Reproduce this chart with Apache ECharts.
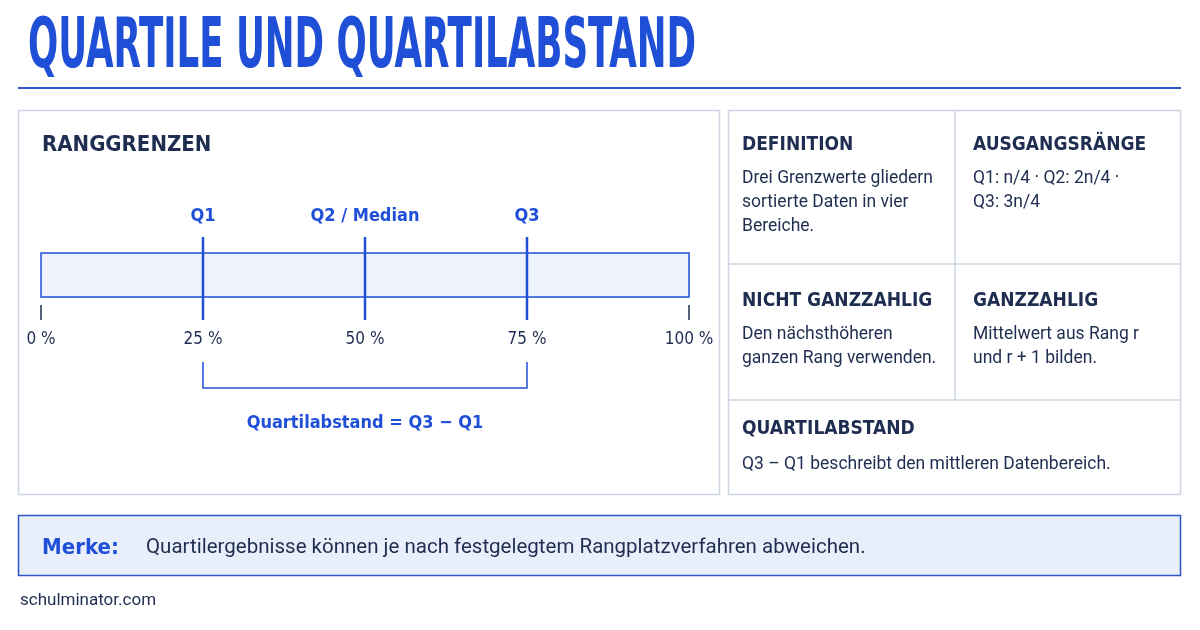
<!DOCTYPE html>
<html><head><meta charset="utf-8">
<script src="https://cdn.jsdelivr.net/npm/echarts@6/dist/echarts.min.js"></script>
<style>html,body{margin:0;padding:0;background:#fff}#c{width:1200px;height:630px}</style>
</head><body><div id="c"></div>
<script>
const quartileValues = [25, 50, 75];
const quartileNames = ['Q1', 'Q2 / Median', 'Q3'];
const tickValues = [0, 25, 50, 75, 100];
const endTicks = [0, 100];
const iqrRange = [25, 75];

const BLUE = '#1f4fd6', NAVY = '#1f2d50', BORDER = '#cdd4e2';
const HF = 'DejaVu Sans Condensed', BF = 'Roboto';
const chart = echarts.init(document.getElementById('c'));

function txt(x, y, t, o) {
  return Object.assign({type:'text', x, y, style:Object.assign({text:t, fill:NAVY, font:'16px '+BF}, o||{})});
}
const cardHead = (x,y,t)=>txt(x,y,t,{font:'bold 19px '+HF, fill:NAVY});
const cardBody = (x,y,t)=>txt(x,y,t,{font:'17.5px '+BF, fill:NAVY, lineHeight:24});

chart.setOption({
  animation:false,
  grid:{left:41, width:648, top:253, height:44},
  xAxis:{type:'value', min:0, max:100, interval:25,
    axisLine:{show:false}, axisTick:{show:false}, splitLine:{show:false},
    axisLabel:{margin:34, fontFamily:HF, fontSize:17, color:NAVY, formatter:v=>v+' %'}},
  yAxis:{type:'value', min:0, max:1, show:false},
  graphic:[
    {type:'text', x:28, y:14, scaleX:0.565, style:{text:'QUARTILE UND QUARTILABSTAND', font:'bold 70px '+HF, fill:BLUE}},
    {type:'rect', shape:{x:18,y:87,width:1163,height:2}, style:{fill:'#2f55c8'}},
    {type:'rect', z:-1, shape:{x:18.5,y:110.5,width:701,height:384}, style:{fill:'#fff', stroke:BORDER, lineWidth:1.5}},
    {type:'rect', z:-1, shape:{x:728.5,y:110.5,width:452,height:384}, style:{fill:'#fff', stroke:BORDER, lineWidth:1.5}},
    {type:'line', shape:{x1:955,y1:110,x2:955,y2:400}, style:{stroke:BORDER, lineWidth:1.5}},
    {type:'line', shape:{x1:728,y1:264,x2:1181,y2:264}, style:{stroke:BORDER, lineWidth:1.5}},
    {type:'line', shape:{x1:728,y1:400,x2:1181,y2:400}, style:{stroke:BORDER, lineWidth:1.5}},
    txt(42, 134, 'RANGGRENZEN', {font:'bold 22px '+HF}),
    cardHead(742,136,'DEFINITION'),
    cardBody(742,167,'Drei Grenzwerte gliedern\nsortierte Daten in vier\nBereiche.'),
    cardHead(973,136,'AUSGANGSRÄNGE'),
    cardBody(973,167,'Q1: n/4 · Q2: 2n/4 ·\nQ3: 3n/4'),
    cardHead(742,292,'NICHT GANZZAHLIG'),
    cardBody(742,323,'Den nächsthöheren\nganzen Rang verwenden.'),
    cardHead(973,292,'GANZZAHLIG'),
    cardBody(973,323,'Mittelwert aus Rang r\nund r + 1 bilden.'),
    cardHead(742,420,'QUARTILABSTAND'),
    cardBody(742,453,'Q3 – Q1 beschreibt den mittleren Datenbereich.'),
    {type:'rect', shape:{x:18.5,y:515.5,width:1162,height:60}, style:{fill:'#e9eefb', stroke:'#2f55c8', lineWidth:1.5}},
    txt(42, 537, 'Merke:', {font:'bold 22px '+HF, fill:BLUE}),
    txt(146, 537, 'Quartilergebnisse können je nach festgelegtem Rangplatzverfahren abweichen.', {font:'20.5px '+BF, fill:NAVY}),
    txt(20, 592, 'schulminator.com', {font:'17px '+BF, fill:NAVY})
  ],
  series:[
    {type:'custom', data:[[0,100]], renderItem:(p,api)=>{
      const a=api.coord([api.value(0),1]), b=api.coord([api.value(1),0]);
      return {type:'rect', shape:{x:a[0],y:a[1],width:b[0]-a[0],height:b[1]-a[1]}, style:{fill:'#eef2fc', stroke:BLUE, lineWidth:1.5}};
    }},
    {type:'custom', data:endTicks.map(v=>[v]), renderItem:(p,api)=>{
      const a=api.coord([api.value(0),0]);
      return {type:'line', shape:{x1:a[0],y1:a[1]+8,x2:a[0],y2:a[1]+23}, style:{stroke:NAVY, lineWidth:1.5}};
    }},
    {type:'custom', data:quartileValues.map((v,i)=>[v,quartileNames[i]]), renderItem:(p,api)=>{
      const t=api.coord([api.value(0),1]), b=api.coord([api.value(0),0]);
      return {type:'group', children:[
        {type:'line', shape:{x1:t[0],y1:t[1]-16,x2:b[0],y2:b[1]+23}, style:{stroke:BLUE, lineWidth:2.5}},
        {type:'text', x:t[0], y:t[1]-37, style:{text:quartileNames[p.dataIndex], font:'bold 18px '+HF, fill:BLUE, align:'center', verticalAlign:'middle'}}
      ]};
    }},
    {type:'custom', data:[iqrRange], renderItem:(p,api)=>{
      const a=api.coord([api.value(0),0]), b=api.coord([api.value(1),0]);
      const y=a[1]+91;
      return {type:'group', children:[
        {type:'polyline', shape:{points:[[a[0],a[1]+65],[a[0],y],[b[0],y],[b[0],a[1]+65]]}, style:{stroke:BLUE, lineWidth:1.5, fill:null}},
        {type:'text', x:(a[0]+b[0])/2, y:y+35, style:{text:'Quartilabstand = Q3 − Q1', font:'bold 18px '+HF, fill:BLUE, align:'center', verticalAlign:'middle'}}
      ]};
    }}
  ]
});
</script></body></html>
